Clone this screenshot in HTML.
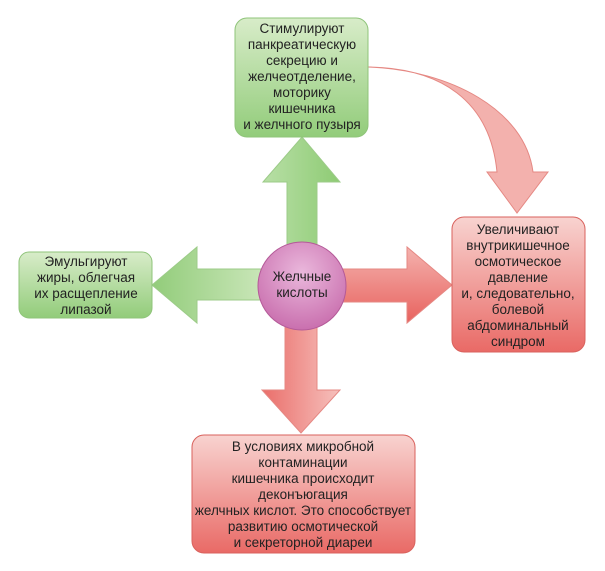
<!DOCTYPE html>
<html><head><meta charset="utf-8"><style>
body{margin:0;background:#fff;width:605px;height:566px;overflow:hidden}
text{font-family:"Liberation Sans",Arial,sans-serif;font-size:13.5px;fill:#222;text-anchor:middle}
</style></head><body>
<svg width="605" height="566" viewBox="0 0 605 566" xmlns="http://www.w3.org/2000/svg">
<defs>
<linearGradient id="g" x1="0" y1="0" x2="0" y2="1"><stop offset="0" stop-color="#d8ecc9"/><stop offset="1" stop-color="#92cc7a"/></linearGradient>
<linearGradient id="gh" x1="0" y1="0" x2="1" y2="0"><stop offset="0" stop-color="#92cc7a"/><stop offset="1" stop-color="#c9e6b8"/></linearGradient>
<linearGradient id="gv" x1="0" y1="0" x2="1" y2="0"><stop offset="0" stop-color="#b8dfa6"/><stop offset="1" stop-color="#8ecb74"/></linearGradient>
<linearGradient id="r" x1="0" y1="0" x2="0" y2="1"><stop offset="0" stop-color="#f8d3d0"/><stop offset="1" stop-color="#e96a66"/></linearGradient>
<linearGradient id="rh" x1="0" y1="0" x2="0" y2="1"><stop offset="0" stop-color="#f4b2ae"/><stop offset="1" stop-color="#e8625e"/></linearGradient>
<linearGradient id="rv" x1="0" y1="0" x2="1" y2="0"><stop offset="0" stop-color="#ea6e6a"/><stop offset="1" stop-color="#f6c1bd"/></linearGradient>
<radialGradient id="p" cx="0.5" cy="0.35" r="0.7"><stop offset="0" stop-color="#eab8dc"/><stop offset="1" stop-color="#c76aab"/></radialGradient>
</defs>
<path d="M368,67 C440,68 490,100 497,172 L487,172 L517,213 L548,172 L533,172 C525,110 450,70 368,67 Z" fill="#f3b1ad" stroke="#e58883" stroke-width="1"/>
<polygon points="287,245 287,182 263,182 302,137 340,182 317,182 317,245" fill="url(#gv)" stroke="#9ccb88"/>
<polygon points="262,269 197,269 197,247 152,285 197,323 197,300 262,300" fill="url(#gh)" stroke="#9ccb88"/>
<polygon points="340,269 407,269 407,247 452,285 407,323 407,302 340,302" fill="url(#rh)" stroke="#e58883"/>
<polygon points="285,320 285,390 262,390 301,433 340,390 317,390 317,320" fill="url(#rv)" stroke="#e58883"/>
<rect x="235" y="18" width="133" height="119" rx="12" fill="url(#g)" stroke="#8fc47a"/>
<rect x="19" y="252" width="133" height="66" rx="10" fill="url(#g)" stroke="#8fc47a"/>
<rect x="452" y="217" width="133" height="135" rx="12" fill="url(#r)" stroke="#d9625d"/>
<rect x="192" y="435" width="223" height="118" rx="12" fill="url(#r)" stroke="#d9625d"/>
<circle cx="302" cy="286" r="44" fill="url(#p)" stroke="#b45a98"/>
<text x="302" y="33">Стимулируют</text>
<text x="302" y="49">панкреатическую</text>
<text x="302" y="65">секрецию и</text>
<text x="302" y="81">желчеотделение,</text>
<text x="302" y="97">моторику</text>
<text x="302" y="113">кишечника</text>
<text x="302" y="129">и желчного пузыря</text>
<text x="86" y="266">Эмульгируют</text>
<text x="86" y="282">жиры, облегчая</text>
<text x="86" y="298">их расщепление</text>
<text x="86" y="314">липазой</text>
<text x="302" y="281">Желчные</text>
<text x="302" y="297">кислоты</text>
<text x="518" y="234">Увеличивают</text>
<text x="518" y="250">внутрикишечное</text>
<text x="518" y="266">осмотическое</text>
<text x="518" y="282">давление</text>
<text x="518" y="298">и, следовательно,</text>
<text x="518" y="314">болевой</text>
<text x="518" y="330">абдоминальный</text>
<text x="518" y="346">синдром</text>
<text x="303" y="451">В условиях микробной</text>
<text x="303" y="467">контаминации</text>
<text x="303" y="483">кишечника происходит</text>
<text x="303" y="499">деконъюгация</text>
<text x="303" y="515">желчных кислот. Это способствует</text>
<text x="303" y="531">развитию осмотической</text>
<text x="303" y="547">и секреторной диареи</text>
</svg>
</body></html>
